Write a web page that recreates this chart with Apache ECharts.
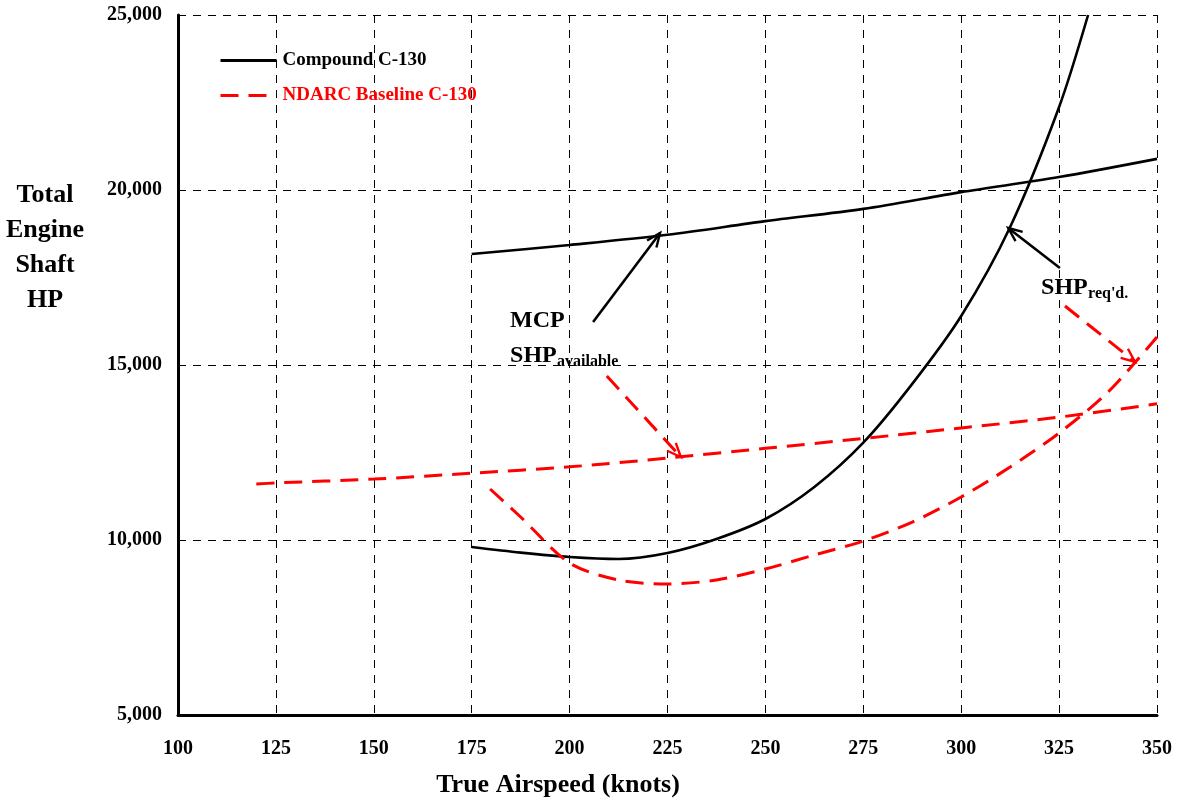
<!DOCTYPE html>
<html><head><meta charset="utf-8">
<script src="https://cdn.jsdelivr.net/npm/echarts@6/dist/echarts.min.js"></script>
<style>html,body{margin:0;padding:0;background:#fff}#c{width:1178px;height:802px}</style>
</head><body><div id="c"></div>
<script>
// ---- data ----
const compoundAvailX = [175, 200, 225, 250, 275, 300, 325, 350];
const compoundAvail  = [18170, 18430, 18720, 19110, 19460, 19940, 20370, 20890];

const compoundReqX = [175, 187.5, 200, 212.5, 225, 237.5, 250, 262.5, 275, 287.5, 300, 312.5, 325, 332.4];
const compoundReq  = [9800, 9640, 9514, 9457, 9629, 10029, 10600, 11514, 12780, 14460, 16400, 18943, 22371, 25000];

const ndarcAvailX = [120, 125, 150, 175, 200, 225, 250, 275, 300, 325, 350];
const ndarcAvail  = [11600, 11630, 11740, 11910, 12090, 12340, 12620, 12900, 13200, 13510, 13890];

const ndarcReqX = [179.7, 187.5, 200, 212.5, 225, 237.5, 250, 262.5, 275, 287.5, 300, 312.5, 325, 337.5, 350];
const ndarcReq  = [11457, 10657, 9343, 8857, 8743, 8857, 9171, 9571, 9971, 10514, 11229, 12086, 13057, 14229, 15800];

// annotation arrows: [fromX, fromY, toX, toY, colour index (0 black, 1 red)]
const arrows = [
  [206.0, 16229, 223.1, 18771, 0],
  [209.5, 14686, 228.4, 12371, 1],
  [325.2, 17771, 312.0, 18914, 0],
  [326.5, 16686, 344.4, 15086, 1]
];
// annotation texts: [x, y, index]
const labelMain = ['MCP', 'SHP', 'SHP'];
const labelSub  = ['', 'available', "req'd."];
const labelPos  = [[184.8, 15914, 0], [184.8, 14914, 1], [320.4, 16857, 2]];

const xTickLabels = ['100','125','150','175','200','225','250','275','300','325','350'];
const yTickLabels = ['5,000','10,000','15,000','20,000','25,000'];
const seriesNames = ['Compound C-130', 'NDARC Baseline C-130'];
const yAxisTitle = 'Total\nEngine\nShaft\nHP';
const xAxisTitle = 'True Airspeed (knots)';

// ---- chart ----
const FONT = '"Liberation Serif", "Times New Roman", serif';
const pairs = (xs, ys) => xs.map((x, i) => [x, ys[i]]);
const colors = ['#000000', '#ff0000'];
const DASH = [18, 10];

const chart = echarts.init(document.getElementById('c'), null, {renderer: 'canvas'});
chart.setOption({
  animation: false,
  backgroundColor: '#ffffff',
  grid: {left: 178, right: 21, top: 15, bottom: 87, containLabel: false},
  xAxis: {
    type: 'value', min: 100, max: 350, interval: 25,
    axisLine: {show: true, onZero: false, lineStyle: {color: '#000', width: 3}},
    axisTick: {show: false},
    axisLabel: {
      margin: 24, color: '#000', fontFamily: FONT, fontWeight: 'bold', fontSize: 20,
      formatter: (v) => xTickLabels[Math.round((v - 100) / 25)]
    },
    splitLine: {show: true, lineStyle: {color: '#000', width: 1, type: [8, 7]}}
  },
  yAxis: {
    type: 'value', min: 5000, max: 25000, interval: 5000,
    axisLine: {show: true, onZero: false, lineStyle: {color: '#000', width: 3}},
    axisTick: {show: false},
    axisLabel: {
      margin: 16, color: '#000', fontFamily: FONT, fontWeight: 'bold', fontSize: 20, padding: [4, 0, 0, 0],
      formatter: (v) => yTickLabels[Math.round((v - 5000) / 5000)]
    },
    splitLine: {show: true, lineStyle: {color: '#000', width: 1, type: [8, 7]}}
  },
  legend: {
    orient: 'vertical', left: 219, top: 51, itemWidth: 56, itemHeight: 14, itemGap: 16,
    padding: 0, selectedMode: false,
    itemStyle: {opacity: 0, borderWidth: 0},
    lineStyle: {width: 3},
    data: [
      {name: seriesNames[0], textStyle: {color: colors[0]}},
      {name: seriesNames[1], textStyle: {color: colors[1]}}
    ],
    textStyle: {fontFamily: FONT, fontWeight: 'bold', fontSize: 19, padding: [0, 0, 0, 1]}
  },
  graphic: [
    {type: 'text', x: 45, y: 248, style: {text: yAxisTitle, fontFamily: FONT, fontWeight: 'bold', fontSize: 26,
      lineHeight: 35, align: 'center', verticalAlign: 'middle', fill: '#000'}},
    {type: 'text', x: 558, y: 785, style: {text: xAxisTitle, fontFamily: FONT, fontWeight: 'bold', fontSize: 26,
      align: 'center', verticalAlign: 'middle', fill: '#000'}}
  ],
  series: [
    {name: seriesNames[0], type: 'line', data: pairs(compoundAvailX, compoundAvail), smooth: 0.3, symbol: 'none',
      lineStyle: {color: colors[0], width: 2.6}, itemStyle: {color: colors[0]}, z: 3},
    {name: seriesNames[0], type: 'line', data: pairs(compoundReqX, compoundReq), smooth: 0.3, symbol: 'none',
      lineStyle: {color: colors[0], width: 2.6}, itemStyle: {color: colors[0]}, z: 3},
    {name: seriesNames[1], type: 'line', data: pairs(ndarcAvailX, ndarcAvail), smooth: 0.3, symbol: 'none',
      lineStyle: {color: colors[1], width: 3, type: DASH}, itemStyle: {color: colors[1]}, z: 3},
    {name: seriesNames[1], type: 'line', data: pairs(ndarcReqX, ndarcReq), smooth: 0.3, symbol: 'none',
      lineStyle: {color: colors[1], width: 3, type: DASH}, itemStyle: {color: colors[1]}, z: 3},
    {
      name: 'arrows', type: 'custom', silent: true, z: 4,
      encode: {x: [0, 2], y: [1, 3]},
      data: arrows,
      renderItem: function (params, api) {
        const p0 = api.coord([api.value(0), api.value(1)]);
        const p1 = api.coord([api.value(2), api.value(3)]);
        const red = api.value(4) === 1;
        const col = colors[red ? 1 : 0];
        const ang = Math.atan2(p1[1] - p0[1], p1[0] - p0[0]);
        const L = 15, a = 0.40;
        const h1 = [p1[0] - L * Math.cos(ang - a), p1[1] - L * Math.sin(ang - a)];
        const h2 = [p1[0] - L * Math.cos(ang + a), p1[1] - L * Math.sin(ang + a)];
        return {type: 'group', children: [
          {type: 'line', shape: {x1: p0[0], y1: p0[1], x2: p1[0], y2: p1[1]},
            style: {stroke: col, lineWidth: red ? 3 : 2.6, lineDash: red ? DASH : null}},
          {type: 'polyline', shape: {points: [h1, p1, h2]},
            style: {stroke: col, lineWidth: 2.4, fill: null}}
        ]};
      }
    },
    {
      name: 'labels', type: 'custom', silent: true, z: 5,
      encode: {x: 0, y: 1},
      data: labelPos,
      renderItem: function (params, api) {
        const p = api.coord([api.value(0), api.value(1)]);
        const idx = api.value(2);
        const children = [
          {type: 'text', x: p[0], y: p[1], style: {text: labelMain[idx], fontFamily: FONT, fontWeight: 'bold',
            fontSize: 24, fill: '#000', align: 'left', verticalAlign: 'bottom'}}
        ];
        if (labelSub[idx]) {
          children.push({type: 'text', x: p[0] + 47, y: p[1] + 1.5, style: {text: labelSub[idx], fontFamily: FONT,
            fontWeight: 'bold', fontSize: 16, fill: '#000', align: 'left', verticalAlign: 'bottom'}});
        }
        return {type: 'group', children: children};
      }
    }
  ]
});
</script>
</body></html>
